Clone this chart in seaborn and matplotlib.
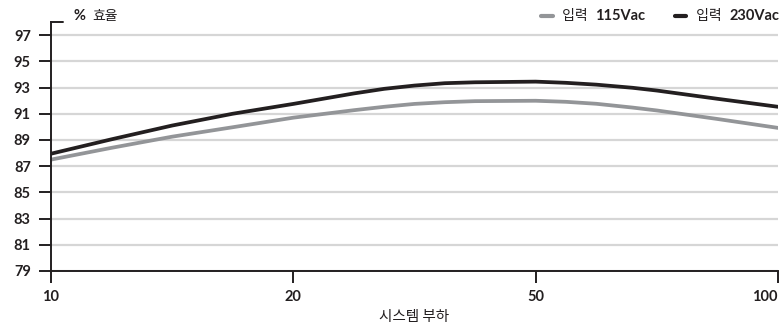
import numpy as np
import pandas as pd
import matplotlib.pyplot as plt
import seaborn as sns
from matplotlib.lines import Line2D
from matplotlib.offsetbox import AnchoredOffsetbox, HPacker, TextArea, DrawingArea

# load position on the chart: 0 = 10, 1 = 20, 2 = 50, 3 = 100 (evenly spaced ticks)
load_pos = [0, 0.25, 0.5, 0.75, 1.0, 1.25, 1.375, 1.5, 1.625, 1.75, 2.0, 2.125, 2.25, 2.4, 2.5, 2.75, 3.0]
eff_230 = [87.95, 89.05, 90.1, 91.0, 91.75, 92.55, 92.9, 93.15, 93.33, 93.4, 93.45, 93.36, 93.22, 92.98,
           92.77, 92.14, 91.53]
eff_115 = [87.5, 88.4, 89.25, 89.97, 90.7, 91.27, 91.53, 91.75, 91.88, 91.96, 91.99, 91.91, 91.76, 91.47,
           91.25, 90.6, 89.92]
tick_pos = [0, 1, 2, 3]
tick_labels = ['10', '20', '50', '100']
y_ticks = list(range(79, 98, 2))

dark = '#231f20'
grey = '#939598'
num_font = ['Lato', 'Noto Sans CJK KR']
kr_font = ['Noto Sans CJK KR', 'DejaVu Sans']

sns.set_style('white')
plt.rcParams['font.family'] = kr_font

df = pd.DataFrame({
    'load': load_pos * 2,
    'eff': eff_115 + eff_230,
    'series': ['115'] * len(load_pos) + ['230'] * len(load_pos),
})

fig = plt.figure(figsize=(7.82, 3.28), dpi=100)
ax = fig.add_axes([51 / 782, 57 / 328, 727 / 782, 249 / 328])

sns.lineplot(data=df, x='load', y='eff', hue='series', palette={'115': grey, '230': dark},
             linewidth=2.7, legend=False, ax=ax)

ax.set_xlim(0, 3)
ax.set_ylim(79, 98)
ax.set_yticks(y_ticks)
ax.set_yticklabels([str(v) for v in y_ticks], fontsize=10.5, fontweight='bold', color=dark, family=num_font)
ax.set_xticks(tick_pos)
ax.set_xticklabels(tick_labels, fontsize=10.5, fontweight='bold', color=dark, family=num_font)
ax.get_xticklabels()[-1].set_ha('right')

ax.tick_params(axis='y', length=8.5, width=1.4, color=dark, pad=6, direction='out', left=True)
ax.tick_params(axis='x', length=8.5, width=1.4, color=dark, pad=5, direction='out', bottom=True)

ax.yaxis.grid(True, color='#d6d6d6', linewidth=1.6)
ax.set_axisbelow(True)
for side in ['top', 'right']:
    ax.spines[side].set_visible(False)
for side in ['left', 'bottom']:
    ax.spines[side].set_color(dark)
    ax.spines[side].set_linewidth(1.4)

# small cap on top of the y axis
ax.plot([0, 0.017], [1, 1], transform=ax.transAxes, clip_on=False, color=dark, lw=1.4)

ax.set_xlabel('시스템 부하', fontsize=10.5, color=dark, labelpad=4.5)
ax.set_ylabel('')

# y label at top
ylab = HPacker(children=[TextArea('%', textprops=dict(fontsize=10.5, fontweight='bold', color=dark, family=num_font)),
                         TextArea('효율', textprops=dict(fontsize=10, color=dark))],
               align='baseline', pad=0, sep=5)
fig.add_artist(AnchoredOffsetbox(loc='center left', child=ylab, frameon=False, pad=0, borderpad=0,
                                 bbox_to_anchor=(73 / 782, 1 - 16 / 328),
                                 bbox_transform=fig.transFigure))


def handle(color):
    da = DrawingArea(8.5, 8, 0, 0)
    da.add_artist(Line2D([0, 8.5], [4, 4], color=color, lw=3))
    return da


leg = HPacker(children=[
    handle(grey),
    TextArea(' 입력', textprops=dict(fontsize=10, color=dark)),
    TextArea('115Vac', textprops=dict(fontsize=10.5, fontweight='bold', color=dark, family=num_font)),
    TextArea('     ', textprops=dict(fontsize=10)),
    handle(dark),
    TextArea(' 입력', textprops=dict(fontsize=10, color=dark)),
    TextArea('230Vac', textprops=dict(fontsize=10.5, fontweight='bold', color=dark, family=num_font)),
], align='center', pad=0, sep=5)
fig.add_artist(AnchoredOffsetbox(loc='center right', child=leg, frameon=False, pad=0, borderpad=0,
                                 bbox_to_anchor=(779 / 782, 1 - 16 / 328),
                                 bbox_transform=fig.transFigure))

fig.savefig('out.png', dpi=100)
